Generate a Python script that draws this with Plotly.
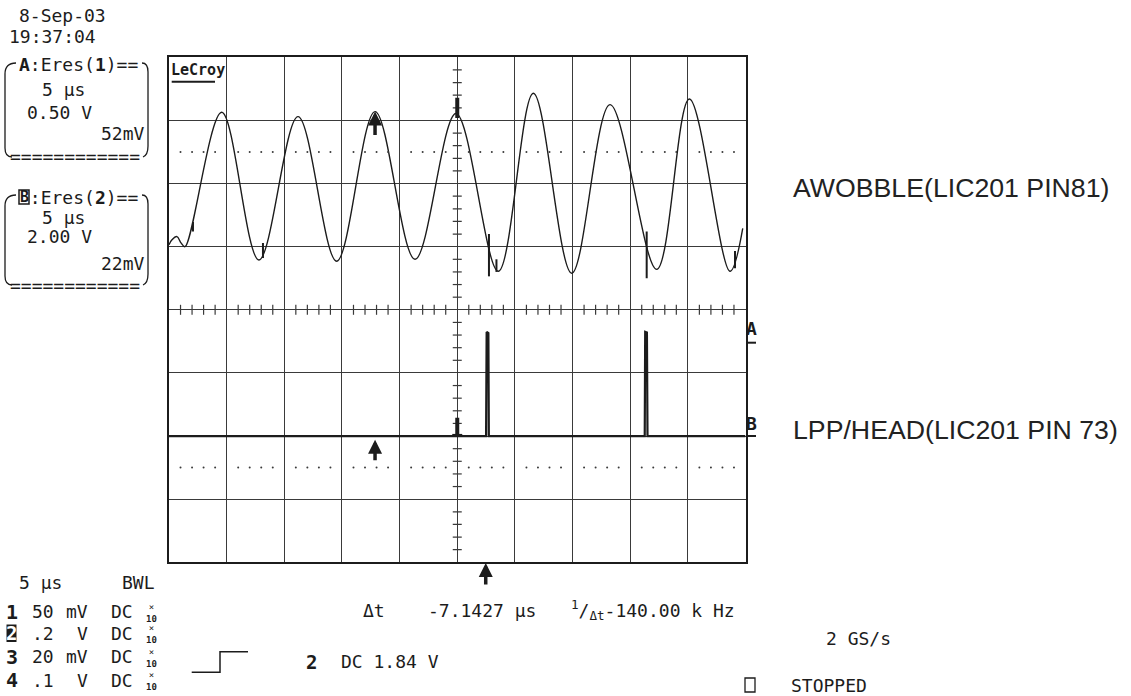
import plotly.graph_objects as go

W, H = 1131, 696
INK = "#1c1c1c"
GRID = "#3a3a3a"
MONO = "DejaVu Sans Mono"
SANS = "Liberation Sans, Arial, sans-serif"

# channel A (AWOBBLE) - time in us, level in divisions
wobble_t = [-25.0, -24.74, -24.31, -23.96, -23.61, -20.43, -17.2, -13.81, -10.46,
            -7.13, -3.66, -0.11, 3.56, 6.60, 9.93, 13.25, 17.30, 20.13, 23.66, 24.76]
wobble_d = [1.03, 1.11, 1.16, 1.06, 1.00, 3.13, 0.79, 3.06, 0.77,
            3.14, 0.80, 3.11, 0.61, 3.43, 0.58, 3.25, 0.64, 3.34, 0.61, 1.29]

# short noise bursts on channel A
glitch_t = [-22.92, -16.85, 2.75, 3.40, 16.43, 24.09]
glitch_lo = [1.24, 0.82, 0.53, 0.60, 0.50, 0.66]
glitch_hi = [1.39, 1.06, 1.20, 0.80, 1.24, 0.93]

# channel B (LPP/HEAD)
lpp_t = [-25.0, 2.50, 2.55, 2.70, 2.74, 16.26, 16.30, 16.45, 16.50, 25.0]
lpp_d = [-2.0, -2.0, -0.35, -0.37, -2.0, -2.0, -0.35, -0.36, -2.0, -2.0]

# bottom channel settings
ch_num = ["1", "2", "3", "4"]
ch_vdiv = ["50", ".2", "20", ".1"]
ch_unit = ["mV", "V", "mV", "V"]


def px(x):
    return x / W


def py(y):
    return 1 - y / H


def pth(spec):
    out = []
    for op, *pts in spec:
        out.append(op + " ".join(f"{px(a):.5f},{py(b):.5f}" for a, b in pts))
    return " ".join(out)


fig = go.Figure()

fig.add_trace(go.Scatter(
    x=wobble_t, y=wobble_d, mode="lines",
    line=dict(color=INK, width=1.4, shape="spline", smoothing=1.0),
    hoverinfo="skip",
))

gx, gy = [], []
for t, lo, hi in zip(glitch_t, glitch_lo, glitch_hi):
    gx += [t, t, None]
    gy += [lo, hi, None]
fig.add_trace(go.Scatter(x=gx, y=gy, mode="lines",
                         line=dict(color=INK, width=2), hoverinfo="skip"))

fig.add_trace(go.Scatter(
    x=lpp_t, y=lpp_d, mode="lines",
    line=dict(color=INK, width=2.2), hoverinfo="skip",
))

# dotted graticule lines
dot_t = [t for t in range(-24, 25) if t % 5]
fig.add_trace(go.Scatter(
    x=dot_t * 2, y=[2.5] * len(dot_t) + [-2.5] * len(dot_t), mode="markers",
    marker=dict(size=2, color=GRID), hoverinfo="skip",
))

fig.update_layout(
    width=W, height=H,
    margin=dict(l=0, r=0, t=0, b=0),
    paper_bgcolor="white", plot_bgcolor="white",
    showlegend=False,
    xaxis=dict(domain=[169 / W, 745.5 / W], range=[-25, 25], dtick=5, tick0=0,
               showgrid=True, gridcolor=GRID, gridwidth=1.3, zeroline=False,
               showticklabels=False, ticks="", showline=True, linecolor=INK,
               linewidth=1.6, mirror=True, fixedrange=True),
    yaxis=dict(domain=[py(562.3), py(57.3)], range=[-4, 4], dtick=1, tick0=0,
               showgrid=True, gridcolor=GRID, gridwidth=1.3, zeroline=False,
               showticklabels=False, ticks="", showline=True, linecolor=INK,
               linewidth=1.6, mirror=True, fixedrange=True),
)

# center cross ticks
tick_line = dict(color=GRID, width=1.2)
for k in range(-20, 21):
    if k % 5:
        fig.add_shape(type="line", xref="x", yref="y", xsizemode="pixel", xanchor=0,
                      x0=-4.5, x1=4.5, y0=k * 0.2, y1=k * 0.2, line=tick_line)
for t in range(-24, 25):
    if t % 5:
        fig.add_shape(type="line", xref="x", yref="y", ysizemode="pixel", yanchor=0,
                      y0=-5, y1=5, x0=t, x1=t, line=tick_line)

# trigger markers at t=0
fig.add_shape(type="line", xref="x", yref="y", x0=0, x1=0, y0=3.04, y1=3.36,
              line=dict(color=INK, width=4))
fig.add_shape(type="line", xref="x", yref="y", x0=0, x1=0, y0=-2.0, y1=-1.71,
              line=dict(color=INK, width=4))
fig.add_shape(type="line", xref="x", yref="y", xsizemode="pixel", xanchor=0,
              x0=-5, x1=5, y0=-1.99, y1=-1.99, line=dict(color=INK, width=3))

# cursor arrows
for ax_x, ax_y, yref, ay in [(-7.13, 3.14, "y", 25), (-7.13, -2.06, "y", 22),
                             (2.47, py(563), "paper", 23)]:
    fig.add_annotation(x=ax_x, y=ax_y, xref="x", yref=yref, ax=0, ay=ay, text="",
                       showarrow=True, arrowhead=2, arrowsize=0.8, arrowwidth=3.5,
                       arrowcolor=INK, standoff=0)


def label(x, y, text, size=18, anchor="left", color=INK, font=MONO):
    fig.add_annotation(x=px(x), y=py(y), xref="paper", yref="paper", text=text,
                       showarrow=False, xanchor=anchor, yanchor="middle",
                       font=dict(family=font, size=size, color=color))


def seg(x0, y0, x1, y1, width=1.3, color=INK):
    fig.add_shape(type="line", xref="paper", yref="paper", x0=px(x0), y0=py(y0),
                  x1=px(x1), y1=py(y1), line=dict(color=color, width=width))


# LeCroy logo
label(169, 70, "<b>LeCroy</b>", size=15)
seg(171.7, 81.7, 215, 81.7, width=2)

# channel markers at the right of the grid
label(744, 329, "<b>A</b>", size=18)
seg(747, 342.7, 756, 342.7, width=2)
label(744, 423, "<b>B</b>", size=18)
seg(747, 436, 756, 436, width=2)

# signal names
label(791, 188, "AWOBBLE(LIC201 PIN81)", size=26.7, font=SANS, color="#222")
label(791, 430, "LPP/HEAD(LIC201 PIN 73)", size=26.7, font=SANS, color="#222")

# timestamp
label(17, 15, "8-Sep-03")
label(7, 37, "19:37:04")

# trace boxes
box_line = dict(color=INK, width=1.3)
for top, bot, head, rows in [
    (63, 157, "<b>A</b>:Eres(<b>1</b>)==", [(40, 90, "5 µs"), (25, 112, "0.50 V")]),
    (195, 285, "<b> </b>:Eres(<b>2</b>)==", [(40, 217, "5 µs"), (25, 237, "2.00 V")]),
]:
    label(17, top + 2, head)
    for x, y, s in rows:
        label(x, y, s)
    label(8, bot, "============")
    fig.add_shape(type="path", xref="paper", yref="paper", line=box_line,
                  path=pth([("M", (16, top)), ("Q", (5, top), (5, top + 11)),
                            ("L", (5, bot - 9)), ("Q", (5, bot), (12, bot))]))
    fig.add_shape(type="path", xref="paper", yref="paper", line=box_line,
                  path=pth([("M", (142, top)), ("Q", (148, top), (148, top + 9)),
                            ("L", (148, bot - 11)), ("Q", (148, bot - 2), (143, bot))]))
label(147, 133, "52mV", anchor="right")
label(147, 263, "22mV", anchor="right")
fig.add_shape(type="rect", xref="paper", yref="paper", x0=px(19), x1=px(29),
              y0=py(204), y1=py(190), line=dict(color=INK, width=1.5))
label(17.5, 197, "<b>B</b>", size=15)

# bottom-left channel settings
label(17, 582, "5 µs")
label(120, 582, "BWL")
rows_y = [611.7, 633.3, 656.7, 680]
for i, (n, v, u) in enumerate(zip(ch_num, ch_vdiv, ch_unit)):
    y = rows_y[i]
    if i == 1:
        fig.add_shape(type="rect", xref="paper", yref="paper", x0=px(6.5), x1=px(16.5),
                      y0=py(642), y1=py(624.5), fillcolor=INK, line=dict(width=0))
        label(11.5, y, "<b>" + n + "</b>", size=19, anchor="center", color="white")
    else:
        label(11.5, y, "<b>" + n + "</b>", size=20, anchor="center")
    label(30, y, v)
    label(90, y, u, anchor="right")
    label(109, y, "DC")
    fig.add_annotation(x=px(151), y=py(y + 1), xref="paper", yref="paper",
                       text="×<br><b>10</b>", showarrow=False, xanchor="center",
                       yanchor="middle", font=dict(family=MONO, size=9, color=INK))

# trigger step symbol and trigger setting
fig.add_shape(type="path", xref="paper", yref="paper", line=dict(color=INK, width=1.5),
              path=pth([("M", (191.7, 672.3)), ("L", (220, 672.3)), ("L", (220, 651.7)),
                        ("L", (248, 651.7))]))
label(311.7, 661.7, "<b>2</b>", size=19, anchor="center")
label(339, 661.7, "DC 1.84 V")

# cursor readout
label(361, 610, "Δt")
label(426, 610, "-7.1427 µs")
label(569, 610, "<sup>1</sup>/<sub>Δt</sub>-140.00 k Hz")

# acquisition status
label(824, 638, "2 GS/s")
fig.add_shape(type="rect", xref="paper", yref="paper", x0=px(745), x1=px(755),
              y0=py(692), y1=py(678), line=dict(color=INK, width=1.3))
label(789, 685, "STOPPED")

fig.write_html("out.html", config={"displayModeBar": False},
               post_script="document.body.style.margin = '0';")
